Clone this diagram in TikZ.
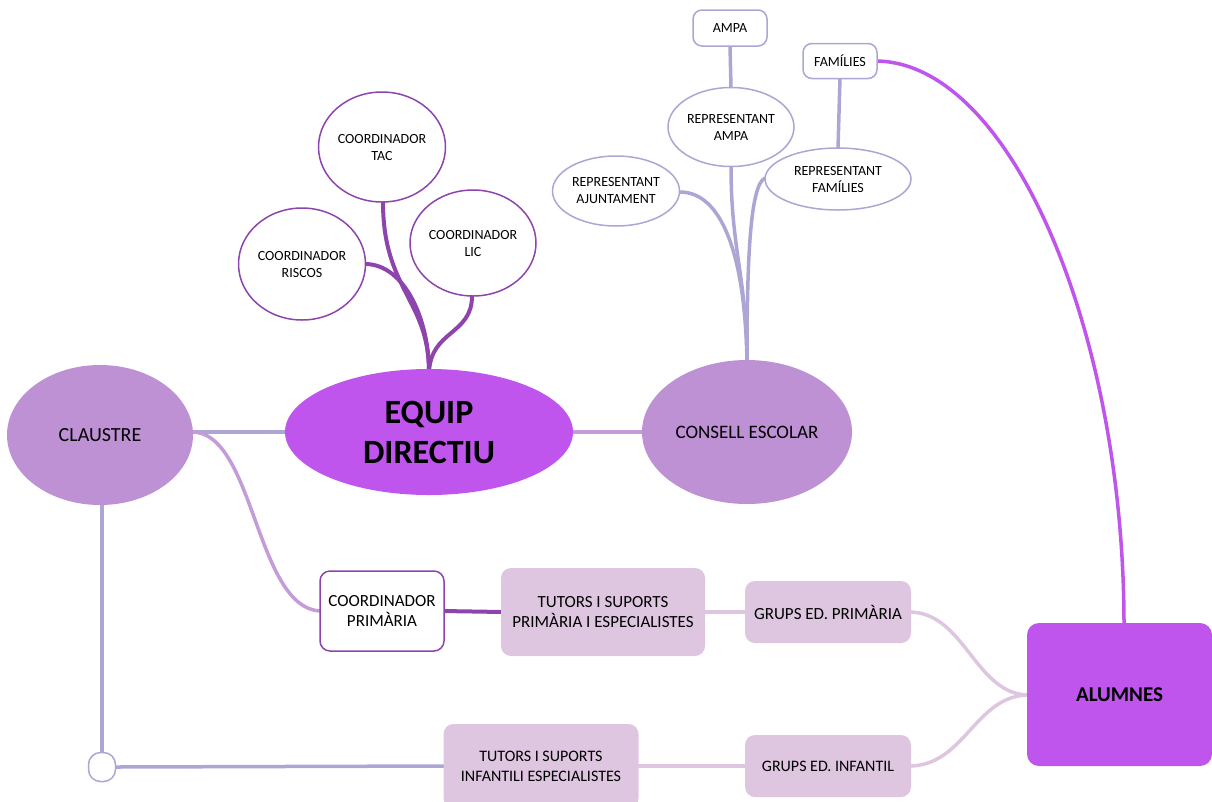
\documentclass[tikz,border=0pt]{standalone}
\usepackage{fontspec}
\setmainfont{Carlito}
\usetikzlibrary{shapes.geometric}

\definecolor{brightPurple}{RGB}{191,85,236}
\definecolor{lilac}{RGB}{190,144,212}
\definecolor{paleMauve}{RGB}{222,198,224}
\definecolor{darkPurple}{RGB}{142,68,173}
\definecolor{greyLavender}{RGB}{172,166,212}
\definecolor{midMauve}{RGB}{196,156,216}

\newcommand{\smallText}{\fontsize{14}{17}\selectfont}
\newcommand{\midText}{\fontsize{17}{20}\selectfont}
\newcommand{\bigText}{\fontsize{20}{24}\selectfont}
\newcommand{\linkWidth}{3.5pt}

\begin{document}
\begin{tikzpicture}[x=1pt,y=-1pt]
\tikzstyle{bubble}=[ellipse,draw=darkPurple,line width=1.5pt,fill=white,inner sep=0pt,align=center,font=\smallText]
\tikzstyle{repBubble}=[ellipse,draw=greyLavender,line width=1.5pt,fill=white,inner sep=0pt,align=center,font=\smallText]
\tikzstyle{tagBox}=[rectangle,rounded corners=9pt,draw=greyLavender,line width=1.5pt,fill=white,inner sep=0pt,align=center,font=\smallText]
\tikzstyle{groupBox}=[rectangle,rounded corners=10pt,fill=paleMauve,inner sep=0pt,align=center,font=\midText]
\tikzstyle{blob}=[ellipse,fill=lilac,inner sep=0pt,align=center,font=\bigText]
\tikzstyle{linkBlue}=[draw=greyLavender,line width=\linkWidth,line cap=round]
\tikzstyle{linkDark}=[draw=darkPurple,line width=4pt,line cap=round]
\tikzstyle{linkPale}=[draw=paleMauve,line width=\linkWidth,line cap=round]
\tikzstyle{linkMauve}=[draw=midMauve,line width=\linkWidth,line cap=round]
\tikzstyle{linkBright}=[draw=brightPurple,line width=\linkWidth,line cap=round]
\useasboundingbox (0,0) rectangle (1212,801);

% connectors first, nodes drawn on top
\coordinate (c-equip-top) at (429,372);
\coordinate (c-consell-top) at (747,362);
\coordinate (c-claustre-east) at (191,432);
\coordinate (c-claustre-bot) at (102,503);

\draw[linkDark] (383,202) .. controls (383,290) and (429,300) .. (c-equip-top);
\draw[linkDark] (366,264) .. controls (405,265) and (429,320) .. (c-equip-top);
\draw[linkDark] (472,296) .. controls (472,335) and (431,330) .. (c-equip-top);

\draw[linkBlue] (731,167) .. controls (731,250) and (747,280) .. (c-consell-top);
\draw[linkBlue] (680,192) .. controls (720,192) and (745,250) .. (c-consell-top);
\draw[linkBlue] (765,178) .. controls (750,185) and (747,260) .. (c-consell-top);
\draw[linkBlue] (730,46) -- (731,88);
\draw[linkBlue] (840,78) -- (838,148);

\draw[linkBlue] (c-claustre-east) -- (287,432);
\draw[linkMauve] (571,432) -- (645,432);
\draw[linkMauve] (c-claustre-east) .. controls (255,430) and (255,611) .. (322,611);
\draw[linkBlue] (c-claustre-bot) -- (102,755);
\draw[linkBlue] (116,767) -- (445,766);

\draw[linkDark] (442,611) -- (503,612);
\draw[linkPale] (703,612) -- (747,612);
\draw[linkPale] (636,766) -- (747,766);
\draw[linkPale] (909,612) .. controls (965,612) and (975,695) .. (1029,695);
\draw[linkPale] (909,766) .. controls (965,766) and (975,695) .. (1029,695);
\draw[linkBright] (875,61) .. controls (1010,61) and (1124,330) .. (1124,625);

% main nodes
\node[blob] (n-claustre) at (100,435) [minimum width=186pt,minimum height=140pt] {CLAUSTRE};
\node[ellipse,fill=brightPurple,inner sep=0pt,align=center,font=\fontsize{34}{40}\selectfont\bfseries,minimum width=288pt,minimum height=126pt] (n-equip) at (429,432) {EQUIP\\DIRECTIU};
\node[blob,font=\fontsize{19}{23}\selectfont] (n-consell) at (747,432) [minimum width=210pt,minimum height=144pt] {CONSELL ESCOLAR};

% coordinadors
\node[bubble,minimum width=127pt,minimum height=110pt] (n-tac) at (382,147) {COORDINADOR\\TAC};
\node[bubble,minimum width=127pt,minimum height=112pt] (n-riscos) at (302,264) {COORDINADOR\\RISCOS};
\node[bubble,minimum width=126pt,minimum height=106pt] (n-lic) at (473,243) {COORDINADOR\\LIC};

% consell escolar
\node[tagBox,minimum width=74pt,minimum height=36pt] (n-ampa) at (730,28) {AMPA};
\node[tagBox,minimum width=74pt,minimum height=35pt] (n-families) at (840,61) {FAMÍLIES};
\node[repBubble,minimum width=126pt,minimum height=79pt] (n-rep-ampa) at (731,127) {REPRESENTANT\\AMPA};
\node[repBubble,minimum width=127pt,minimum height=70pt] (n-rep-ajunt) at (616,191) {REPRESENTANT\\AJUNTAMENT};
\node[repBubble,minimum width=146pt,minimum height=62pt] (n-rep-fam) at (838,179) {REPRESENTANT\\FAMÍLIES};

% primaria / infantil
\node[rectangle,rounded corners=10pt,draw=darkPurple,line width=1.5pt,fill=white,inner sep=0pt,align=center,font=\midText,minimum width=124pt,minimum height=80pt] (n-coord-prim) at (382,611) {COORDINADOR\\PRIMÀRIA};
\node[groupBox,minimum width=204pt,minimum height=88pt] (n-tutors-prim) at (603,612) {TUTORS I SUPORTS\\PRIMÀRIA I ESPECIALISTES};
\node[groupBox,minimum width=166pt,minimum height=62pt] (n-grups-prim) at (828,612) {GRUPS ED. PRIMÀRIA};
\node[groupBox,font=\fontsize{16}{20}\selectfont,minimum width=195pt,minimum height=84pt] (n-tutors-inf) at (541,766) {TUTORS I SUPORTS\\INFANTILI ESPECIALISTES};
\node[groupBox,font=\fontsize{16}{20}\selectfont,minimum width=166pt,minimum height=62pt] (n-grups-inf) at (828,766) {GRUPS ED. INFANTIL};
\node[tagBox,rounded corners=12pt,minimum width=27pt,minimum height=29pt] (n-join) at (102,767) {};

\node[rectangle,rounded corners=12pt,fill=brightPurple,inner sep=0pt,font=\fontsize{21}{25}\selectfont\bfseries,minimum width=185pt,minimum height=143pt] (n-alumnes) at (1119.5,694.5) {ALUMNES};
\end{tikzpicture}
\end{document}
